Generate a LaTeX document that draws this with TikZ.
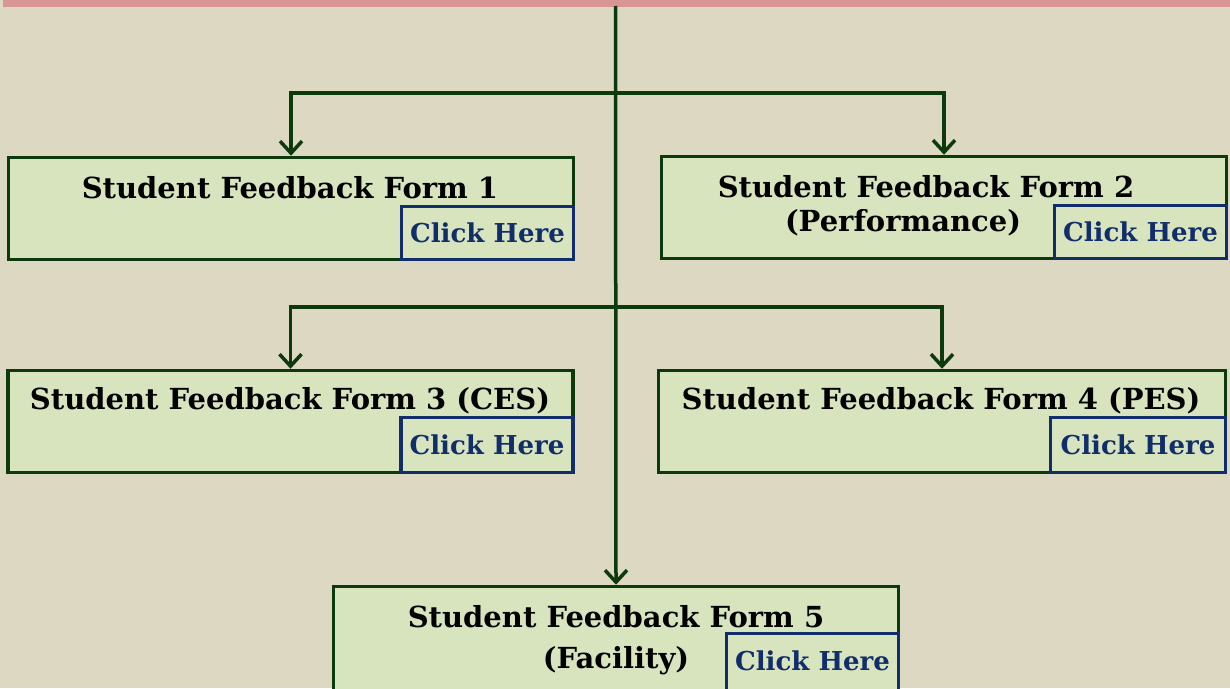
\documentclass[tikz,border=0pt]{standalone}
\usepackage{fontspec}
\setmainfont{DejaVu Serif}
\usetikzlibrary{arrows.meta}

\definecolor{pagebg}{HTML}{DDD8C2}
\definecolor{topbar}{HTML}{D99594}
\definecolor{linegreen}{HTML}{0C3A0C}
\definecolor{formfill}{HTML}{D7E4BD}
\definecolor{clicknavy}{HTML}{112D6A}

\tikzset{
  formbox/.style={draw=linegreen, line width=3.5pt, fill=formfill,
    minimum width=565pt, minimum height=102pt, inner sep=0pt},
  clickbox/.style={draw=clicknavy, line width=3.5pt, text=clicknavy,
    font=\bfseries\fontsize{26}{31}\selectfont,
    minimum width=172pt, minimum height=53pt, inner sep=0pt, anchor=south east},
  formtitle/.style={font=\bfseries\fontsize{29}{35}\selectfont, inner sep=0pt},
  link/.style={draw=linegreen, line width=3.5pt,
    -{Straight Barb[length=12pt,width=22pt]}},
}

\begin{document}
\begin{tikzpicture}[x=1pt,y=-1pt]
\useasboundingbox[fill=pagebg] (0,0) rectangle (1230,688);
\fill[topbar] (3,0) rectangle (1230,6.5);
\coordinate (top) at (615.5,6);

% forms
\node[formbox] (f1) at (291,208.5) {};
\node[formbox] (f2) at (944,207.5) {};
\node[formbox] (f3) at (290.5,421.5) {};
\node[formbox, minimum width=567pt] (f4) at (942,421.5) {};
\node[formbox, minimum height=120pt] (f5) at (616,646.5) {};

\node[formtitle] (t1) at (290,188) {Student Feedback Form 1};
\node[formtitle] (t2a) at (926,187) {Student Feedback Form 2};
\node[formtitle] (t2b) at (903,223) {(Performance)};
\node[formtitle] (t3) at (290,401) {Student Feedback Form 3 (CES)};
\node[formtitle] (t4) at (941,401) {Student Feedback Form 4 (PES)};
\node[formtitle] (t5a) at (616,617) {Student Feedback Form 5};
\node[formtitle] (t5b) at (616,661) {(Facility)};

\node[clickbox] (c1) at (f1.south east) {Click Here};
\node[clickbox] (c2) at (f2.south east) {Click Here};
\node[clickbox, minimum height=55pt] (c3) at (f3.south east) {Click Here};
\node[clickbox, minimum width=175pt, minimum height=55pt] (c4) at (f4.south east) {Click Here};
\node[clickbox, minimum height=73pt, text depth=18pt] (c5) at (f5.south east) {Click Here};

% connectors
\coordinate (b1) at (615.5,93);
\coordinate (b2) at (615.5,307);
\draw[link] (top) -- (f5.north);
\draw[link] (b1) -| (f1.north);
\draw[link] (b1) -| (f2.north);
\draw[link] (b2) -| (f3.north);
\draw[link] (b2) -| (f4.north);
\end{tikzpicture}
\end{document}
